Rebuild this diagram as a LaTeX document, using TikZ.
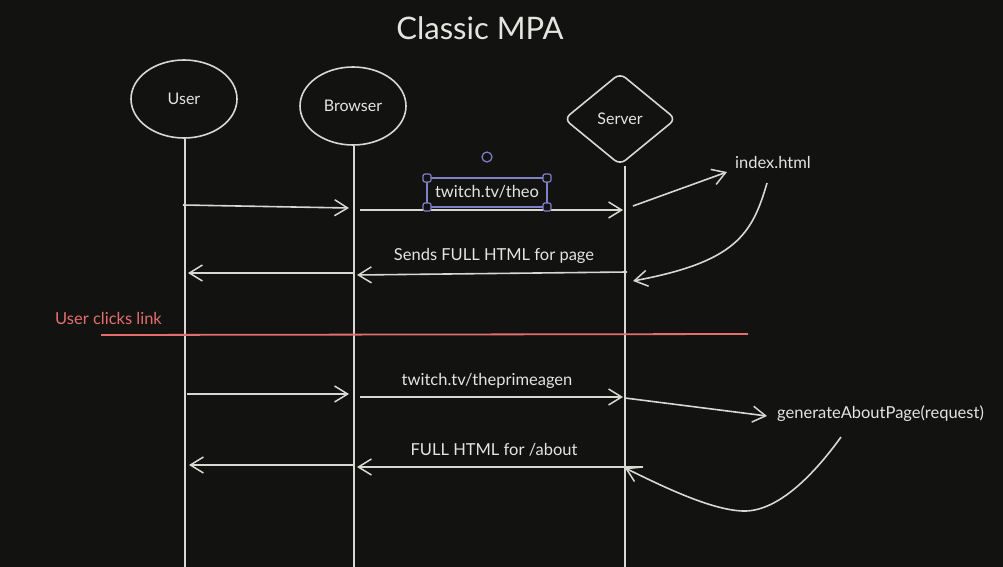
\documentclass[tikz,border=0pt]{standalone}
\usepackage{fontspec}
\setmainfont{Lato}
\usetikzlibrary{arrows.meta,shapes.geometric}
\definecolor{bg}{RGB}{18,19,17}
\definecolor{ink}{RGB}{215,215,212}
\definecolor{txt}{RGB}{228,228,225}
\definecolor{redink}{RGB}{226,110,110}
\definecolor{sel}{RGB}{128,128,200}
\tikzset{
  actor/.style={draw=ink, line width=1.6pt, ellipse, minimum width=106pt, minimum height=78pt, inner sep=0pt, text=txt, font=\fontsize{16}{19}\selectfont},
  srv/.style={draw=ink, line width=1.6pt, diamond, minimum width=112pt, minimum height=92pt, inner sep=0pt, rounded corners=7pt, text=txt, font=\fontsize{16}{19}\selectfont},
  life/.style={draw=ink, line width=1.6pt},
  msg/.style={draw=ink, line width=1.6pt, -{Straight Barb[length=13pt,width=16pt,line width=1.5pt]}},
  lbl/.style={text=txt, font=\fontsize{16.5}{19}\selectfont, inner sep=0pt},
  handle/.style={draw=sel, fill=bg, line width=1.2pt, rounded corners=2pt, minimum size=8pt, inner sep=0pt},
}
\begin{document}
\begin{tikzpicture}[x=1pt,y=-1pt]
\fill[bg] (0,0) rectangle (1003,567);
\useasboundingbox (0,0) rectangle (1003,567);

% title
\node[text=txt, font=\fontsize{31}{36}\selectfont, inner sep=0pt] (title) at (480,28) {Classic MPA};

% actors
\node[actor] (user) at (184,99) {User};
\node[actor] (browser) at (353,106) {Browser};
\node[srv] (server) at (620,119) {Server};

% lifelines
\coordinate (uEnd) at (185,567);
\coordinate (bEnd) at (354,567);
\coordinate (sEnd) at (625,567);
\draw[life] (user.south) ++(1,0) coordinate (uTop) -- (uEnd);
\draw[life] (browser.south) ++(1,0) coordinate (bTop) -- (bEnd);
\draw[life] (server.south) ++(5,0) coordinate (sTop) -- (sEnd);

% message points
\coordinate (u1) at (183,205); \coordinate (b1) at (349,208);
\coordinate (b2) at (360,210); \coordinate (s2) at (623,210);
\coordinate (s3) at (633,206); \coordinate (idxA) at (727,172);
\coordinate (s5) at (627,272); \coordinate (b5) at (357,275);
\coordinate (b6) at (354,273); \coordinate (u6) at (188,273);
\coordinate (u8) at (187,394); \coordinate (b8) at (349,394);
\coordinate (b9) at (360,397); \coordinate (s9) at (623,397);
\coordinate (s10) at (625,398); \coordinate (genA) at (767,416);
\coordinate (s11) at (643,467); \coordinate (b11) at (357,467);
\coordinate (b12) at (354,465); \coordinate (u12) at (189,465);

% first request
\draw[msg] (u1) -- (b1);
\draw[msg] (b2) -- (s2);
\node[lbl] (theo) at (487,192) {twitch.tv/theo};
\draw[sel, line width=1.2pt] (427,178) rectangle (547,207);
\node[handle] (h1) at (427,178) {};
\node[handle] (h2) at (547,178) {};
\node[handle] (h3) at (427,207) {};
\node[handle] (h4) at (547,207) {};
\draw[sel, line width=1.2pt] (487,157) circle (5pt);

% index.html
\node[lbl, anchor=west] (idx) at (735,162) {index.html};
\draw[msg] (s3) -- (idxA);
\coordinate (idxB) at (767,183);
\coordinate (s4) at (633,281);
\draw[msg] (idxB) .. controls (752,235) and (735,262) .. (s4);

% response
\draw[msg] (s5) -- (b5);
\node[lbl] (full1) at (494,256) {Sends FULL HTML for page};
\draw[msg] (b6) -- (u6);

% user clicks link
\coordinate (r1) at (101,335);
\coordinate (r2) at (748,334);
\draw[redink, line width=1.8pt] (r1) -- (r2);
\node[lbl, text=redink, anchor=west] (click) at (55,318) {User clicks link};

% second request
\draw[msg] (u8) -- (b8);
\draw[msg] (b9) -- (s9);
\node[lbl] (prime) at (487,381) {twitch.tv/theprimeagen};
\draw[msg] (s10) -- (genA);
\node[lbl, anchor=west] (gen) at (777,414) {generateAboutPage(request)};

% second response
\draw[msg] (s11) -- (b11);
\node[lbl] (full2) at (494,450) {FULL HTML for /about};
\draw[msg] (b12) -- (u12);
\coordinate (genB) at (841,437);
\coordinate (s12) at (625,468);
\draw[msg] (genB) .. controls (810,480) and (775,512) .. (743,511) .. controls (710,510) and (660,485) .. (s12);
\end{tikzpicture}
\end{document}
